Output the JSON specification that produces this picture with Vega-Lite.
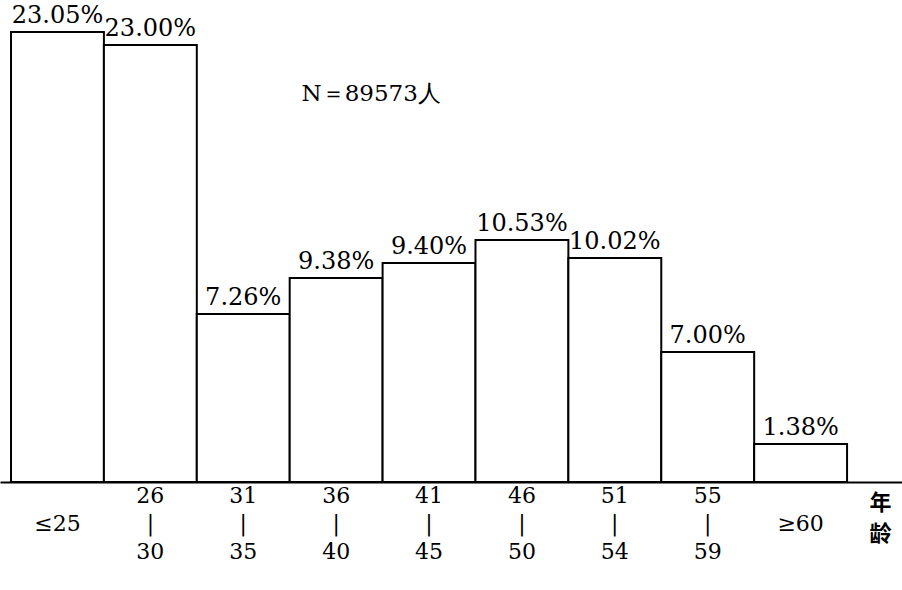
{
  "$schema": "https://vega.github.io/schema/vega-lite/v6.json",
  "width": 902,
  "height": 590,
  "autosize": {"type": "fit", "contains": "padding"},
  "padding": 0,
  "background": "white",
  "config": {"view": {"stroke": null}},
  "data": {"values": [
    {"cat": "≤25", "lab": "\n≤25", "pct": "23.05%", "h": 450},
    {"cat": "26-30", "lab": "26\n|\n30", "pct": "23.00%", "h": 437},
    {"cat": "31-35", "lab": "31\n|\n35", "pct": "7.26%", "h": 168},
    {"cat": "36-40", "lab": "36\n|\n40", "pct": "9.38%", "h": 204},
    {"cat": "41-45", "lab": "41\n|\n45", "pct": "9.40%", "h": 219},
    {"cat": "46-50", "lab": "46\n|\n50", "pct": "10.53%", "h": 242},
    {"cat": "51-54", "lab": "51\n|\n54", "pct": "10.02%", "h": 224},
    {"cat": "55-59", "lab": "55\n|\n59", "pct": "7.00%", "h": 130},
    {"cat": "≥60", "lab": "\n≥60", "pct": "1.38%", "h": 38}
  ]},
  "encoding": {
    "x": {
      "field": "cat", "type": "nominal", "sort": null,
      "scale": {"paddingInner": 0, "paddingOuter": 0.355, "align": 0.167},
      "axis": {
        "offset": -108, "domain": true, "domainColor": "black", "domainWidth": 2,
        "ticks": false, "labels": false,
        "title": ["年", "龄"], "titleAngle": 0, "titleX": 880, "titleY": 10,
        "titleAlign": "center", "titleBaseline": "top",
        "titleFont": "Noto Sans CJK SC", "titleFontSize": 22, "titleFontWeight": "bold",
        "titleColor": "black", "titleLineHeight": 31
      }
    }
  },
  "layer": [
    {
      "mark": {"type": "bar", "fill": "white", "stroke": "black", "strokeWidth": 2},
      "encoding": {
        "y": {"field": "h", "type": "quantitative", "scale": {"domain": [-108, 482], "nice": false, "zero": false}, "axis": null},
        "y2": {"datum": 0}
      }
    },
    {
      "mark": {"type": "text", "font": "DejaVu Serif", "fontSize": 24, "baseline": "alphabetic", "align": "center", "dy": -9, "color": "black"},
      "encoding": {
        "y": {"field": "h", "type": "quantitative"},
        "text": {"field": "pct", "type": "nominal"}
      }
    },
    {
      "mark": {"type": "text", "font": "DejaVu Serif", "fontSize": 22, "baseline": "alphabetic", "align": "center", "dy": 21, "lineBreak": "\n", "lineHeight": 28, "color": "black"},
      "encoding": {
        "y": {"datum": 0},
        "text": {"field": "lab", "type": "nominal"}
      }
    },
    {
      "data": {"values": [{"t": "N＝89573人"}]},
      "mark": {"type": "text", "font": "DejaVu Serif", "fontSize": 23, "baseline": "alphabetic", "align": "center", "dx": 35, "color": "black"},
      "encoding": {
        "x": {"datum": "36-40"},
        "y": {"datum": 381},
        "text": {"field": "t", "type": "nominal"}
      }
    }
  ]
}
